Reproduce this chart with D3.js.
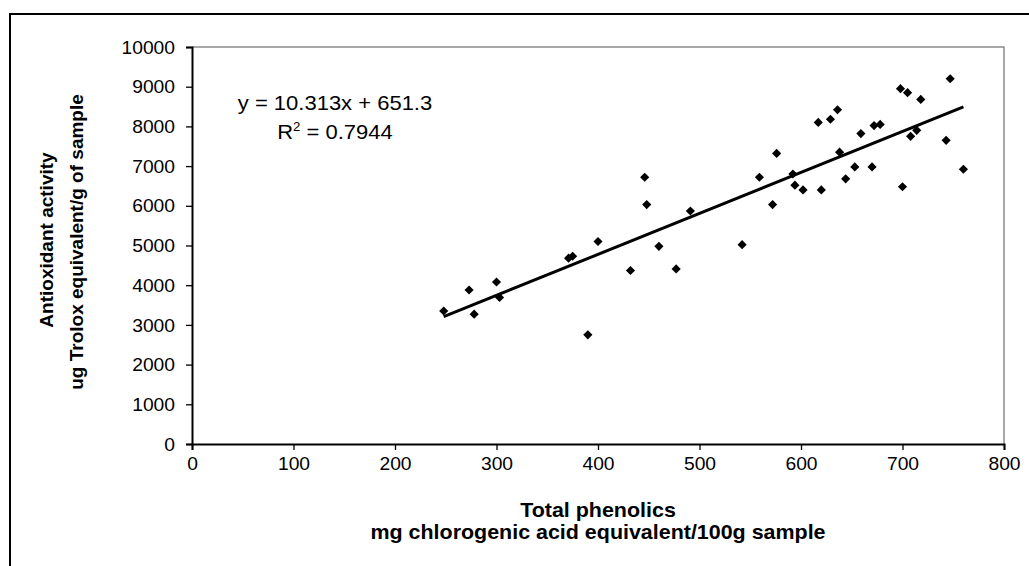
<!DOCTYPE html>
<html><head><meta charset="utf-8">
<script src="https://cdn.jsdelivr.net/npm/d3@7"></script>
<style>body{margin:0;background:#fff}svg{display:block}text{font-family:"Liberation Sans",Arial,sans-serif}</style>
</head><body>
<svg id="c" width="1029" height="566"></svg>
<script>
const phenolics = [248,273,278,300,303,371,375,390,400,432,446,448,460,477,491,542,559,572,576,592,594,602,617,620,629,636,638,644,653,659,670,672,678,698,700,705,708,714,718,743,747,760];
const antioxidant = [3350,3880,3270,4080,3690,4680,4730,2750,5100,4370,6720,6030,4980,4410,5870,5020,6720,6030,7320,6800,6520,6400,8100,6400,8180,8420,7350,6680,6980,7820,6980,8020,8050,8950,6480,8850,7750,7900,8680,7650,9200,6920];
const xTicks = [0,100,200,300,400,500,600,700,800];
const yTicks = [0,1000,2000,3000,4000,5000,6000,7000,8000,9000,10000];
const slope = 10.313, intercept = 651.3;
const eqText = "y = 10.313x + 651.3";
const r2Value = "0.7944";
const xTitle = ["Total phenolics","mg chlorogenic acid equivalent/100g sample"];
const yTitle = ["Antioxidant activity","ug Trolox equivalent/g of sample"];

const SX = 1.1; // horizontal stretch of text seen in reference
const svg = d3.select("#c");
const L=192, R=1004, T=47, B=444;
const x = d3.scaleLinear().domain([0,800]).range([L,R]);
const y = d3.scaleLinear().domain([0,10000]).range([B,T]);

svg.append("rect").attr("x",10).attr("y",14).attr("width",1030).attr("height",570)
  .attr("fill","none").attr("stroke","#000").attr("stroke-width",2);
svg.append("path").attr("d",`M${L},${T}H${R}V${B}`).attr("fill","none").attr("stroke","#8c8c8c").attr("stroke-width",1.5);

const xa = svg.append("g").attr("transform",`translate(0,${B})`)
  .call(d3.axisBottom(x).tickValues(xTicks).tickFormat(d3.format("d")).tickSizeOuter(0).tickSize(6));
const ya = svg.append("g").attr("transform",`translate(${L},0)`)
  .call(d3.axisLeft(y).tickValues(yTicks).tickFormat(d3.format("d")).tickSizeOuter(0).tickSize(6));
[xa,ya].forEach(a=>{
  a.select(".domain").attr("stroke","#000").attr("stroke-width",2);
  a.selectAll(".tick line").attr("stroke","#000").attr("stroke-width",1.3);
  a.selectAll(".tick text").attr("font-size",17.5).attr("fill","#000").attr("font-family","Liberation Sans, Arial, sans-serif");
});
xa.selectAll(".tick text").attr("y",0).attr("dy",0).attr("transform","translate(0,26) scale(1.1,1)");
ya.selectAll(".tick text").attr("x",0).attr("dy","0.35em").attr("transform","translate(-17,0) scale(1.1,1)");

const xmin=d3.min(phenolics), xmax=d3.max(phenolics);
svg.append("line").attr("x1",x(xmin)).attr("y1",y(slope*xmin+intercept))
  .attr("x2",x(xmax)).attr("y2",y(slope*xmax+intercept))
  .attr("stroke","#000").attr("stroke-width",3);

const diamond = d3.symbol().type(d3.symbolSquare).size(42);
svg.append("g").selectAll("path").data(phenolics.map((v,i)=>[v,antioxidant[i]])).join("path")
  .attr("d",diamond).attr("transform",d=>`translate(${x(d[0])},${y(d[1])}) rotate(45)`).attr("fill","#000");

function htext(px,py,size,bold){
  return svg.append("text").attr("transform",`translate(${px},${py}) scale(${SX},1)`)
    .attr("text-anchor","middle").attr("font-size",size).attr("font-weight",bold?"bold":"normal");
}
htext(335,110,20,false).text(eqText);
const r2 = htext(335,139,20,false);
r2.append("tspan").text("R");
r2.append("tspan").attr("font-size",12).attr("dy",-8).text("2");
r2.append("tspan").attr("dy",8).text(" = "+r2Value);

htext((L+R)/2,517,19.5,true).text(xTitle[0]);
htext((L+R)/2,539,19.5,true).text(xTitle[1]);
svg.append("text").attr("transform",`translate(53,240) rotate(-90)`).attr("text-anchor","middle").attr("font-size",19).attr("font-weight","bold").text(yTitle[0]);
svg.append("text").attr("transform",`translate(83,242) rotate(-90)`).attr("text-anchor","middle").attr("font-size",19).attr("font-weight","bold").text(yTitle[1]);
</script>
</body></html>
